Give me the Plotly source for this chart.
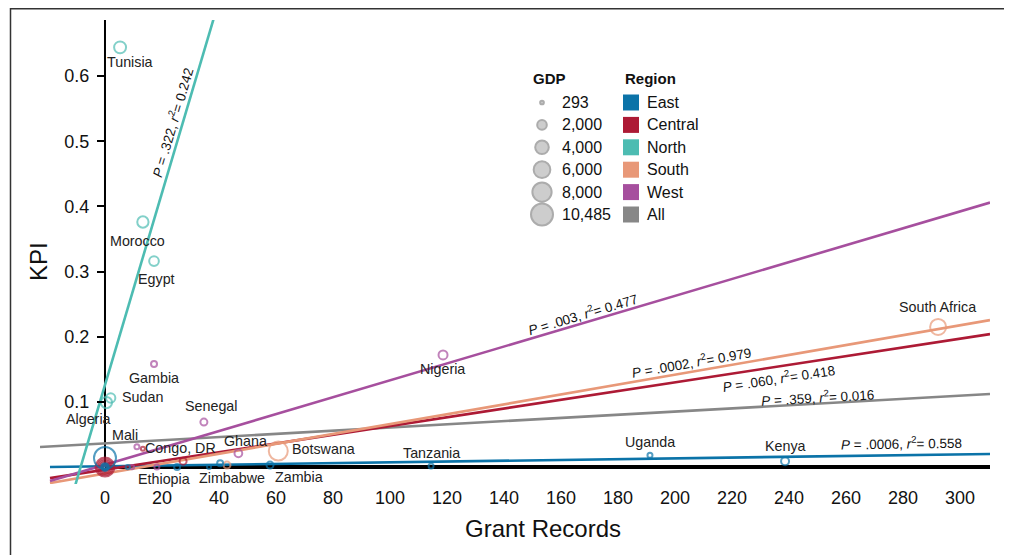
import numpy as np
import plotly.graph_objects as go

# ---------------- data ----------------
region_names = ["East", "Central", "North", "South", "West", "All"]
region_colors = ["#0b73a8", "#ad1a35", "#4dbcb2", "#e89878", "#a64f9e", "#878787"]

# North
north_names = ["Tunisia", "Morocco", "Egypt", "Sudan", "Algeria"]
north_x = [5.3, 13.3, 17.2, 2.0, 0.5]
north_y = [0.644, 0.376, 0.316, 0.106, 0.099]
north_gdp = [3100, 2760, 2040, 1870, 2760]

# West
west_names = ["Gambia", "Senegal", "Nigeria", "Ghana", "Mali", "", ""]
west_x = [17.2, 34.7, 118.6, 46.8, 11.2, 18.2, 9.5]
west_y = [0.158, 0.069, 0.172, 0.021, 0.031, 0.0, 0.0]
west_gdp = [780, 1060, 1750, 1300, 540, 540, 400]

# Central
central_names = ["Congo, DR", "", "", "", "", "", "", ""]
central_x = [13.3, 27.4, 0, 0, 0, 0, 0, 0]
central_y = [0.028, 0.009, 0, 0, 0, 0, 0, 0]
central_gdp = [350, 1060, 350, 1060, 2160, 3660, 5540, 7800]

# South
south_names = ["South Africa", "Botswana", ""]
south_x = [292.3, 60.8, 42.8]
south_y = [0.215, 0.0245, 0.003]
south_gdp = [5540, 7810, 1060]

# East
east_names = ["", "", "", "", "", "Ethiopia", "", "Zimbabwe", "Zambia", "Tanzania", "Uganda", "Kenya"]
east_x = [0, 0, 0, 0, 8.0, 25.3, 36.5, 40.4, 57.9, 114.4, 191.2, 238.6]
east_y = [0.0138, 0, 0, 0, 0, 0, 0, 0.006, 0.003, 0.0015, 0.018, 0.009]
east_gdp = [10485, 300, 700, 1300, 400, 780, 350, 780, 1060, 540, 540, 1385]

# Regression fits: region, slope, intercept, P, r2
reg_region = ["All", "East", "Central", "South", "West", "North"]
reg_slope = [0.000244, 0.0000606, 0.00067, 0.000758, 0.001296, 0.01474]
reg_intercept = [0.0363, 0.0012, -0.0040, -0.0099, 0.0035, 0.126]
reg_p = [".359", ".0006", ".060", ".0002", ".003", ".322"]
reg_r2 = ["0.016", "0.558", "0.418", "0.979", "0.477", "0.242"]

# GDP legend values
gdp_legend = [293, 2000, 4000, 6000, 8000, 10485]

# ticks
x_ticks = list(range(0, 301, 20))
y_ticks = [0.1, 0.2, 0.3, 0.4, 0.5, 0.6]

# ---------------- layout geometry (screen pixels; page body has 8px margin) ----------------
OFF = 8
SCR_W, SCR_H = 1012, 555
W, H = SCR_W - OFF, SCR_H - OFF
SX0, SX1, SY0, SY1 = 40, 990, 20, 484  # plot area in screen pixels
ML, MR, MT, MB = SX0 - OFF, SCR_W - SX1, SY0 - OFF, SCR_H - SY1
PW = SX1 - SX0
PH = SY1 - SY0
X_RANGE = [-22.8, 310.5]
Y_RANGE = [-0.026, 0.686]
FONT = "Liberation Sans, Arial, Helvetica, sans-serif"


def px_x(p):
    return (p - SX0) / PW


def px_y(p):
    return (SY1 - p) / PH


def gdp_size(g):
    return 0.215 * np.sqrt(np.asarray(g, dtype=float))


color_of = dict(zip(region_names, region_colors))

fig = go.Figure()

# regression lines
x_scale = PH / (Y_RANGE[1] - Y_RANGE[0]) / (PW / (X_RANGE[1] - X_RANGE[0]))
for reg, m, b in zip(reg_region, reg_slope, reg_intercept):
    x0 = X_RANGE[0] if reg == "All" else -19.3
    xs = np.array([x0, X_RANGE[1]])
    fig.add_trace(go.Scatter(x=xs, y=m * xs + b, mode="lines",
                             line=dict(color=color_of[reg], width=2.6),
                             showlegend=False, hoverinfo="skip"))

# points
groups = [
    ("Central", central_x, central_y, central_gdp, central_names),
    ("South", south_x, south_y, south_gdp, south_names),
    ("West", west_x, west_y, west_gdp, west_names),
    ("North", north_x, north_y, north_gdp, north_names),
    ("East", east_x, east_y, east_gdp, east_names),
]
for reg, xs, ys, gs, names in groups:
    fig.add_trace(go.Scatter(x=xs, y=ys, mode="markers", text=names,
                             marker=dict(symbol="circle-open", size=gdp_size(gs),
                                         color=color_of[reg], line=dict(width=2)),
                             showlegend=False, cliponaxis=False))

# point labels (screen-pixel positions of label centres)
label_pos = {
    "Tunisia": (130, 62), "Morocco": (137, 241), "Egypt": (156, 279),
    "Gambia": (154, 378), "Sudan": (142, 397), "Algeria": (88, 419),
    "Senegal": (211, 406), "Mali": (125, 435), "Congo, DR": (180, 448),
    "Ghana": (245, 441), "Botswana": (323, 449), "Ethiopia": (164, 479),
    "Zimbabwe": (232, 478), "Zambia": (299, 477), "Nigeria": (442, 369),
    "Tanzania": (431, 453), "Uganda": (650, 442), "Kenya": (785, 446),
    "South Africa": (937, 307),
}
annotations = []
for name, (px, py) in label_pos.items():
    annotations.append(dict(x=px_x(px), y=px_y(py), xref="paper", yref="paper",
                            xanchor="center", yanchor="middle",
                            text=name, showarrow=False,
                            font=dict(family=FONT, size=14.3, color="#222")))

# regression labels
reg_label_pos = {
    "North": (172, 123), "West": (582, 314), "South": (691, 362),
    "Central": (778, 378), "All": (817, 397), "East": (901, 443),
}
for reg, m, p, r2 in zip(reg_region, reg_slope, reg_p, reg_r2):
    px, py = reg_label_pos[reg]
    ang = -np.degrees(np.arctan(m * x_scale))
    annotations.append(dict(x=px_x(px), y=px_y(py), xref="paper", yref="paper",
                            xanchor="center", yanchor="middle",
                            text=f"<i>P</i> = {p}, <i>r</i><sup>2</sup>= {r2}",
                            showarrow=False, textangle=ang,
                            font=dict(family=FONT, size=13.5, color="#111")))

# axis titles
annotations.append(dict(x=px_x(543), y=px_y(528), xref="paper", yref="paper",
                        xanchor="center", yanchor="middle",
                        text="Grant Records", showarrow=False,
                        font=dict(family=FONT, size=24, color="#111")))
annotations.append(dict(x=px_x(38), y=px_y(262), xref="paper", yref="paper",
                        xanchor="center", yanchor="middle",
                        text="KPI", showarrow=False, textangle=-90,
                        font=dict(family=FONT, size=24, color="#111")))

# ---------------- legends (overlay axes in screen pixels) ----------------
row0, row_h = 102.5, 22.4
gdp_rows = [row0 + i * row_h for i in range(len(gdp_legend))]
fig.add_trace(go.Scatter(x=[542] * len(gdp_legend), y=gdp_rows, xaxis="x2", yaxis="y2",
                         mode="markers",
                         marker=dict(symbol="circle", size=gdp_size(gdp_legend),
                                     color="#b8b8b8", line=dict(color="#8a8a8a", width=2)),
                         showlegend=False, hoverinfo="skip", cliponaxis=False))
reg_rows = [row0 + i * row_h for i in range(len(region_names))]
fig.add_trace(go.Scatter(x=[631] * len(region_names), y=reg_rows, xaxis="x2", yaxis="y2",
                         mode="markers",
                         marker=dict(symbol="square", size=16, color=region_colors,
                                     line=dict(width=0)),
                         showlegend=False, hoverinfo="skip", cliponaxis=False))
for g, yy in zip(gdp_legend, gdp_rows):
    annotations.append(dict(x=560, y=yy, xref="x2", yref="y2", text=f"{g:,}",
                            showarrow=False, xanchor="left", yanchor="middle",
                            font=dict(family=FONT, size=16, color="#111")))
for r, yy in zip(region_names, reg_rows):
    annotations.append(dict(x=645, y=yy, xref="x2", yref="y2", text=r,
                            showarrow=False, xanchor="left", yanchor="middle",
                            font=dict(family=FONT, size=16, color="#111")))
annotations.append(dict(x=531, y=78, xref="x2", yref="y2", text="<b>GDP</b>",
                        showarrow=False, xanchor="left", yanchor="middle",
                        font=dict(family=FONT, size=15, color="#111")))
annotations.append(dict(x=623, y=78, xref="x2", yref="y2", text="<b>Region</b>",
                        showarrow=False, xanchor="left", yanchor="middle",
                        font=dict(family=FONT, size=15, color="#111")))

shapes = [
    # axis lines through zero
    dict(type="line", xref="x", yref="y", x0=0, x1=X_RANGE[1], y0=0, y1=0,
         line=dict(color="black", width=4), layer="below"),
    dict(type="line", xref="x", yref="y", x0=0, x1=0, y0=0, y1=Y_RANGE[1],
         line=dict(color="black", width=2), layer="below"),
    # outer frame
    dict(type="rect", xref="paper", yref="paper", x0=px_x(10.5), x1=px_x(1007.5),
         y0=px_y(620), y1=px_y(8.8), line=dict(color="#333", width=1.5)),
]

fig.update_layout(
    width=W, height=H,
    margin=dict(l=ML, r=MR, t=MT, b=MB, autoexpand=False),
    paper_bgcolor="white", plot_bgcolor="white",
    showlegend=False,
    font=dict(family=FONT, color="#111"),
    xaxis=dict(range=X_RANGE, showgrid=False, zeroline=False, showline=False,
               tickvals=x_ticks, ticks="", tickfont=dict(family=FONT, size=18, color="#111"),
               ticklabelstandoff=1),
    yaxis=dict(range=Y_RANGE, showgrid=False, zeroline=False, showline=False,
               anchor="free", position=(0 - X_RANGE[0]) / (X_RANGE[1] - X_RANGE[0]),
               tickvals=y_ticks, ticks="outside", ticklen=8, tickwidth=2, tickcolor="black",
               tickfont=dict(family=FONT, size=18, color="#111"), ticklabelstandoff=4),
    xaxis2=dict(range=[SX0, SX1], overlaying="x", visible=False, fixedrange=True),
    yaxis2=dict(range=[SY1, SY0], overlaying="y", visible=False, fixedrange=True),
    annotations=annotations,
    shapes=shapes,
)

fig.write_html("out.html")
